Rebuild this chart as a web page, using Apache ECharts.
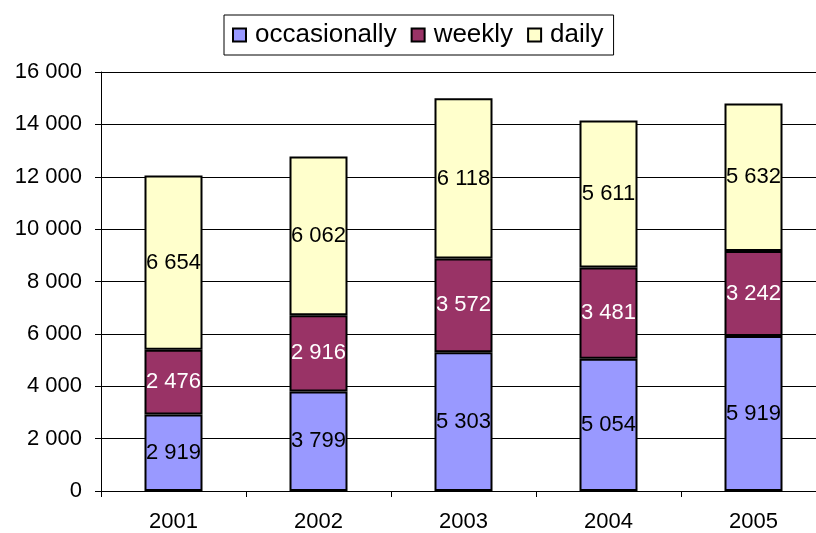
<!DOCTYPE html>
<html>
<head>
<meta charset="utf-8">
<script src="https://cdn.jsdelivr.net/npm/echarts@6/dist/echarts.min.js"></script>
<style>
  html, body { margin: 0; padding: 0; background: #fff; }
  #chart { width: 816px; height: 533px; }
</style>
</head>
<body>
<div id="chart"></div>
<script>
var years = ["2001", "2002", "2003", "2004", "2005"];
var occasionally = [2919, 3799, 5303, 5054, 5919];
var weekly = [2476, 2916, 3572, 3481, 3242];
var daily = [6654, 6062, 6118, 5611, 5632];

function fmt(v) {
  return String(v).replace(/\B(?=(\d{3})+(?!\d))/g, " ");
}

var font = "Liberation Sans, Arial, sans-serif";
var chart = echarts.init(document.getElementById("chart"));

function barSeries(name, data, color, labelColor) {
  return {
    name: name,
    type: "bar",
    stack: "total",
    data: data,
    barWidth: 58,
    itemStyle: { color: color, borderColor: "#000", borderWidth: 2 },
    label: {
      show: true,
      position: "inside",
      color: labelColor,
      fontFamily: font,
      fontSize: 22,
      formatter: function (p) { return fmt(p.value); }
    }
  };
}

chart.setOption({
  animation: false,
  textStyle: { fontFamily: font },
  legend: {
    top: 15,
    left: 224,
    data: ["occasionally", "weekly", "daily"],
    icon: "rect",
    borderColor: "#000",
    borderWidth: 1,
    padding: [7, 10, 7, 8],
    itemGap: 14,
    itemWidth: 13,
    itemHeight: 13,
    itemStyle: { borderColor: "#000", borderWidth: 2 },
    textStyle: { fontSize: 26, color: "#000", padding: [0, 0, 0, 4] }
  },
  grid: { left: 101, top: 72, width: 725, bottom: 42, outerBoundsMode: "none" },
  xAxis: {
    type: "category",
    data: years,
    axisLine: { lineStyle: { color: "#000", width: 1 } },
    axisTick: { show: true, length: 6, lineStyle: { color: "#000" } },
    axisLabel: { color: "#000", fontSize: 22, margin: 20 }
  },
  yAxis: {
    type: "value",
    min: 0,
    max: 16000,
    interval: 2000,
    axisLine: { show: true, lineStyle: { color: "#000", width: 1 } },
    axisTick: { show: true, length: 6, lineStyle: { color: "#000" } },
    splitLine: { show: true, lineStyle: { color: "#000", width: 1 } },
    axisLabel: {
      color: "#000",
      fontSize: 22,
      margin: 19,
      formatter: function (v) { return fmt(v); }
    }
  },
  series: [
    barSeries("occasionally", occasionally, "#9999FF", "#000"),
    barSeries("weekly", weekly, "#993366", "#fff"),
    barSeries("daily", daily, "#FFFFCC", "#000")
  ]
});
</script>
</body>
</html>
